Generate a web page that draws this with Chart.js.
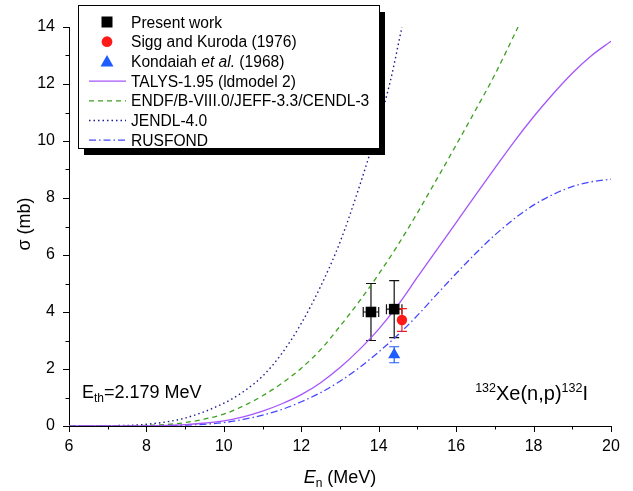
<!DOCTYPE html>
<html>
<head>
<meta charset="utf-8">
<script src="https://cdn.jsdelivr.net/npm/chart.js@4.4.1/dist/chart.umd.min.js"></script>
<style>
  html, body { margin: 0; padding: 0; background: #fff; }
  #wrap { position: relative; width: 633px; height: 491px; }
</style>
</head>
<body>
<div id="wrap"><canvas id="chart" width="633" height="491"></canvas></div>
<script>
const FONT = "'Liberation Sans', Arial, sans-serif";

// measurements
const presentE = [13.8, 14.4];
const presentSigma = [4.0, 4.1];
const presentSigmaErr = [1.0, 1.0];
const presentEErr = [0.2, 0.2];

const siggE = [14.6];
const siggSigma = [3.72];
const siggSigmaErr = [0.4];

const kondaiahE = [14.4];
const kondaiahSigma = [2.5];
const kondaiahSigmaErr = [0.28];

// evaluations / model
const talysE = [6, 7, 8, 9, 10, 10.5, 11, 11.5, 12, 12.5, 13, 13.5, 14, 14.5, 15, 15.5, 16, 16.5, 17, 17.5, 18, 18.5, 19, 19.5, 20];
const talysSigma = [0, 0, 0.005, 0.05, 0.18, 0.32, 0.52, 0.78, 1.1, 1.52, 2.05, 2.68, 3.4, 4.25, 5.22, 6.18, 7.14, 8.1, 9.05, 9.98, 10.85, 11.65, 12.38, 13.0, 13.5];

const endfE = [6, 7, 8, 9, 10, 10.5, 11, 11.5, 12, 12.5, 13, 13.5, 14, 14.5, 15, 15.5, 16, 16.5, 17, 17.6];
const endfSigma = [0, 0, 0.02, 0.12, 0.42, 0.7, 1.06, 1.5, 2.03, 2.68, 3.5, 4.38, 5.33, 6.36, 7.48, 8.66, 9.86, 11.08, 12.33, 14.0];

const jendlE = [6, 7, 8, 9, 10, 10.5, 11, 11.5, 12, 12.5, 13, 13.5, 14, 14.3, 14.6];
const jendlSigma = [0, 0.01, 0.06, 0.28, 0.8, 1.2, 1.75, 2.55, 3.6, 4.9, 6.45, 8.4, 10.6, 12.1, 14.0];

const rusfondE = [6, 7, 8, 9, 10, 10.5, 11, 11.5, 12, 12.5, 13, 13.5, 14, 14.5, 15, 15.5, 16, 16.5, 17, 17.5, 18, 18.5, 19, 19.5, 20];
const rusfondSigma = [0, 0, 0, 0.03, 0.12, 0.23, 0.38, 0.58, 0.85, 1.17, 1.57, 2.05, 2.6, 3.2, 3.88, 4.62, 5.35, 6.05, 6.7, 7.27, 7.75, 8.12, 8.4, 8.57, 8.66];

const legendLabels = [
  [["Present work"]],
  [["Sigg and Kuroda (1976)"]],
  [["Kondaiah "], ["et al.", "italic"], [" (1968)"]],
  [["TALYS-1.95 (ldmodel 2)"]],
  [["ENDF/B-VIII.0/JEFF-3.3/CENDL-3"]],
  [["JENDL-4.0"]],
  [["RUSFOND"]]
];

const xTicks = [6, 8, 10, 12, 14, 16, 18, 20];
const yTicks = [0, 2, 4, 6, 8, 10, 12, 14];

const pts = (xs, ys) => xs.map((x, i) => ({ x, y: ys[i] }));

const datasets = [
  { label: "Present work", data: pts(presentE, presentSigma), pointStyle: "rect", pointRadius: 7.5, backgroundColor: "#000", borderColor: "#000", borderWidth: 0,
    yErr: presentSigmaErr, xErr: presentEErr, errColor: "#111" },
  { label: "Sigg and Kuroda (1976)", data: pts(siggE, siggSigma), pointStyle: "circle", pointRadius: 5.2, backgroundColor: "#ff1a1a", borderColor: "#ff1a1a", borderWidth: 0,
    yErr: siggSigmaErr, errColor: "#ff1a1a" },
  { label: "Kondaiah et al. (1968)", data: pts(kondaiahE, kondaiahSigma), pointStyle: "triangle", pointRadius: 7, backgroundColor: "#1f5cff", borderColor: "#1f5cff", borderWidth: 0,
    yErr: kondaiahSigmaErr, errColor: "#1f5cff" },
  { label: "TALYS", data: pts(talysE, talysSigma), showLine: true, pointRadius: 0, borderColor: "rgb(165,85,250)", borderWidth: 1.3, cubicInterpolationMode: "monotone" },
  { label: "ENDF", data: pts(endfE, endfSigma), showLine: true, pointRadius: 0, borderColor: "rgb(60,160,30)", borderWidth: 1.3, borderDash: [5, 4], cubicInterpolationMode: "monotone" },
  { label: "JENDL", data: pts(jendlE, jendlSigma), showLine: true, pointRadius: 0, borderColor: "rgb(30,30,140)", borderWidth: 1.4, borderDash: [1.5, 3], cubicInterpolationMode: "monotone" },
  { label: "RUSFOND", data: pts(rusfondE, rusfondSigma), showLine: true, pointRadius: 0, borderColor: "rgb(70,70,255)", borderWidth: 1.3, borderDash: [7, 3, 1.5, 3], cubicInterpolationMode: "monotone" }
];

function drawRuns(ctx, runs, x, y, align) {
  // runs: [text, size, style, dy]
  const widths = runs.map(r => { ctx.font = `${r[2] || ""} ${r[1]}px ${FONT}`; return ctx.measureText(r[0]).width; });
  const total = widths.reduce((a, b) => a + b, 0);
  let cx = align === "right" ? x - total : align === "center" ? x - total / 2 : x;
  ctx.textAlign = "left";
  ctx.textBaseline = "alphabetic";
  runs.forEach((r, i) => {
    ctx.font = `${r[2] || ""} ${r[1]}px ${FONT}`;
    ctx.fillText(r[0], cx, y + (r[3] || 0));
    cx += widths[i];
  });
}

const errorBars = {
  id: "errorBars",
  beforeDatasetsDraw(chart) {
    const { ctx, scales: { x, y } } = chart;
    ctx.save();
    ctx.lineWidth = 1.2;
    chart.data.datasets.forEach(ds => {
      if (!ds.yErr) return;
      ctx.strokeStyle = ds.errColor;
      ds.data.forEach((p, i) => {
        const px = x.getPixelForValue(p.x);
        const y1 = y.getPixelForValue(p.y - ds.yErr[i]);
        const y2 = y.getPixelForValue(p.y + ds.yErr[i]);
        ctx.beginPath();
        ctx.moveTo(px, y1); ctx.lineTo(px, y2);
        ctx.moveTo(px - 5, y1); ctx.lineTo(px + 5, y1);
        ctx.moveTo(px - 5, y2); ctx.lineTo(px + 5, y2);
        if (ds.xErr) {
          const py = y.getPixelForValue(p.y);
          const x1 = x.getPixelForValue(p.x - ds.xErr[i]);
          const x2 = x.getPixelForValue(p.x + ds.xErr[i]);
          ctx.moveTo(x1, py); ctx.lineTo(x2, py);
          ctx.moveTo(x1, py - 5); ctx.lineTo(x1, py + 5);
          ctx.moveTo(x2, py - 5); ctx.lineTo(x2, py + 5);
        }
        ctx.stroke();
      });
    });
    ctx.restore();
  }
};

const decorations = {
  id: "decorations",
  afterDraw(chart) {
    const { ctx, chartArea: a, scales: { x, y } } = chart;
    ctx.save();
    ctx.strokeStyle = "#000";
    ctx.lineWidth = 1;
    // tick marks, outward
    ctx.beginPath();
    for (let v = 6; v <= 20; v++) {
      const px = Math.round(x.getPixelForValue(v)) + 0.5;
      const len = v % 2 === 0 ? 6 : 3.5;
      ctx.moveTo(px, a.bottom); ctx.lineTo(px, a.bottom + len);
    }
    for (let v = 0; v <= 14; v++) {
      const py = Math.round(y.getPixelForValue(v)) + 0.5;
      const len = v % 2 === 0 ? 6 : 3.5;
      ctx.moveTo(a.left, py); ctx.lineTo(a.left - len, py);
    }
    ctx.stroke();

    ctx.fillStyle = "#000";
    // axis titles
    drawRuns(ctx, [["E", 18, "italic"], ["n", 12, "", 4], [" (MeV)", 18]], (a.left + a.right) / 2, 483, "center");
    ctx.save();
    ctx.translate(30, 224);
    ctx.rotate(-Math.PI / 2);
    drawRuns(ctx, [["σ (mb)", 18]], 0, 0, "center");
    ctx.restore();

    // annotations
    drawRuns(ctx, [["E", 18], ["th", 12, "", 4], ["=2.179 MeV", 18]], 82, 398, "left");
    drawRuns(ctx, [["132", 12.5, "", -8], ["Xe(n,p)", 20], ["132", 12.5, "", -8], ["I", 20]], 588, 400, "right");

    // legend box with shadow
    const bx = 78.5, by = 5.5, bw = 301, bh = 143;
    ctx.fillStyle = "#000";
    ctx.fillRect(bx + 5.5, by + 6.5, bw, bh);
    ctx.fillStyle = "#fff";
    ctx.fillRect(bx, by, bw, bh);
    ctx.strokeRect(bx, by, bw, bh);

    const rowY = i => 22 + i * 19.7;
    const symX = 107;
    chart.data.datasets.forEach((ds, i) => {
      const cy = rowY(i);
      ctx.save();
      if (ds.showLine) {
        ctx.strokeStyle = ds.borderColor;
        ctx.lineWidth = ds.borderWidth;
        ctx.setLineDash(ds.borderDash || []);
        ctx.beginPath();
        ctx.moveTo(89, cy); ctx.lineTo(126, cy);
        ctx.stroke();
      } else {
        ctx.fillStyle = ds.backgroundColor;
        ctx.beginPath();
        if (ds.pointStyle === "rect") {
          ctx.rect(symX - 5.5, cy - 5.5, 11, 11);
        } else if (ds.pointStyle === "circle") {
          ctx.arc(symX, cy, 5.4, 0, Math.PI * 2);
        } else {
          ctx.moveTo(symX, cy - 6.5); ctx.lineTo(symX + 6.5, cy + 5); ctx.lineTo(symX - 6.5, cy + 5); ctx.closePath();
        }
        ctx.fill();
      }
      ctx.restore();
      ctx.fillStyle = "#000";
      drawRuns(ctx, legendLabels[i].map(r => [r[0], 15.6, r[1] || ""]), 131, cy + 5.5, "left");
    });
    ctx.restore();
  }
};

new Chart(document.getElementById("chart"), {
  type: "scatter",
  data: { datasets },
  options: {
    responsive: false,
    animation: false,
    events: [],
    layout: { padding: { top: 27, right: 22, left: 0, bottom: 0 } },
    plugins: { legend: { display: false }, tooltip: { enabled: false } },
    scales: {
      x: {
        type: "linear", min: 6, max: 20,
        afterBuildTicks: s => { s.ticks = xTicks.map(v => ({ value: v })); },
        afterFit: s => { s.height = 65; },
        grid: { display: false, drawTicks: false, tickLength: 0 },
        border: { display: true, color: "#000", width: 1 },
        ticks: { color: "#000", padding: 11, font: { family: FONT, size: 16 }, maxRotation: 0, autoSkip: false }
      },
      y: {
        type: "linear", min: 0, max: 14,
        afterBuildTicks: s => { s.ticks = yTicks.map(v => ({ value: v })); },
        afterFit: s => { s.width = 69; },
        grid: { display: false, drawTicks: false, tickLength: 0 },
        border: { display: true, color: "#000", width: 1 },
        ticks: { color: "#000", padding: 14, font: { family: FONT, size: 16 }, autoSkip: false }
      }
    }
  },
  plugins: [errorBars, decorations]
});
</script>
</body>
</html>
